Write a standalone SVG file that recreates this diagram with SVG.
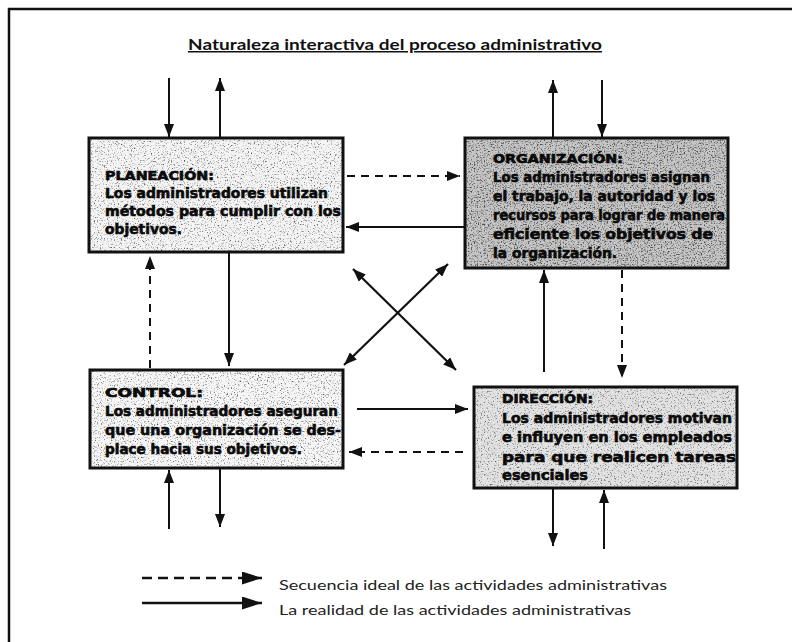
<svg xmlns="http://www.w3.org/2000/svg" width="792" height="642" viewBox="0 0 792 642">
  <style>
    .frame { stroke: #111; stroke-width: 2.5; fill: none; }
    .box { fill: none; stroke: #111; stroke-width: 3; }
    .head { font-family: "DejaVu Sans", "Liberation Sans", sans-serif; font-weight: bold; font-size: 13px; fill: #0a0a0a; stroke: #0a0a0a; stroke-width: 0.7; }
    .body { font-family: "DejaVu Sans", "Liberation Sans", sans-serif; font-weight: bold; font-size: 13.5px; fill: #0a0a0a; stroke: #0a0a0a; stroke-width: 0.6; }
    .title { font-family: "Lato", "Liberation Sans", sans-serif; font-weight: bold; font-size: 15px; fill: #111; text-decoration: underline; }
    .legend { font-family: "Lato", "Liberation Sans", sans-serif; font-size: 13px; fill: #222; }
    .solid { stroke: #111; stroke-width: 2; fill: none; marker-end: url(#ah); }
    .dashed { stroke: #111; stroke-width: 2; fill: none; stroke-dasharray: 8 6; marker-end: url(#ah); }
    .both { stroke: #111; stroke-width: 2.2; fill: none; marker-start: url(#ah); marker-end: url(#ah); }
  </style>
  <defs>
    <marker id="ah" viewBox="0 0 13 10" refX="13" refY="5" markerWidth="13" markerHeight="10" markerUnits="userSpaceOnUse" orient="auto-start-reverse">
      <path d="M0,0 L13,5 L0,10 z" fill="#111"/>
    </marker>
    <marker id="ahL" viewBox="0 0 20 13" refX="20" refY="6.5" markerWidth="20" markerHeight="13" markerUnits="userSpaceOnUse" orient="auto">
      <path d="M0,0 L20,6.5 L0,13 z" fill="#111"/>
    </marker>
    <!-- photocopy speckle for the box backgrounds -->
    <filter id="grainLight" x="0" y="0" width="1" height="1" color-interpolation-filters="sRGB">
      <feTurbulence type="fractalNoise" baseFrequency="0.7" numOctaves="4" seed="7" result="t"/>
      <feColorMatrix in="t" type="matrix" values="0 0 0 0 0.35  0 0 0 0 0.35  0 0 0 0 0.35  3.5 0 0 0 -1.95" result="dots"/>
      <feComposite in="dots" in2="SourceGraphic" operator="in"/>
    </filter>
    <filter id="grainDark" x="0" y="0" width="1" height="1" color-interpolation-filters="sRGB">
      <feTurbulence type="fractalNoise" baseFrequency="0.7" numOctaves="4" seed="11" result="t"/>
      <feColorMatrix in="t" type="matrix" values="0 0 0 0 0.3  0 0 0 0 0.3  0 0 0 0 0.3  3.5 0 0 0 -1.75" result="dots"/>
      <feComposite in="dots" in2="SourceGraphic" operator="in"/>
    </filter>
  </defs>

  <rect x="0" y="0" width="792" height="642" fill="#ffffff"/>

  <!-- page frame (top and left edges) -->
  <g id="frame">
    <path class="frame" d="M9,642 L9,9 L792,9"/>
  </g>

  <g id="title">
    <text class="title" x="188" y="50" textLength="414" lengthAdjust="spacingAndGlyphs">Naturaleza interactiva del proceso administrativo</text>
  </g>

  <!-- PLANEACIÓN -->
  <g id="node-planeacion">
    <rect x="89" y="138" width="254" height="114" fill="#f4f4f4"/>
    <rect x="89" y="138" width="254" height="114" fill="#000" filter="url(#grainLight)"/>
    <text class="head" x="105" y="180" textLength="109" lengthAdjust="spacingAndGlyphs">PLANEACIÓN:</text>
    <text class="body" x="105" y="198" textLength="223" lengthAdjust="spacingAndGlyphs">Los administradores utilizan</text>
    <text class="body" x="105" y="216" textLength="236" lengthAdjust="spacingAndGlyphs">métodos para cumplir con los</text>
    <text class="body" x="105" y="234" textLength="77" lengthAdjust="spacingAndGlyphs">objetivos.</text>
    <rect class="box" x="89" y="138" width="254" height="114"/>
  </g>

  <!-- ORGANIZACIÓN -->
  <g id="node-organizacion">
    <rect x="465" y="138" width="263" height="130" fill="#c6c6c6"/>
    <rect x="465" y="138" width="263" height="130" fill="#000" filter="url(#grainDark)"/>
    <text class="head" x="493" y="163" textLength="130" lengthAdjust="spacingAndGlyphs">ORGANIZACIÓN:</text>
    <text class="body" x="493" y="182" textLength="217" lengthAdjust="spacingAndGlyphs">Los administradores asignan</text>
    <text class="body" x="493" y="201" textLength="222" lengthAdjust="spacingAndGlyphs">el trabajo, la autoridad y los</text>
    <text class="body" x="493" y="220" textLength="232" lengthAdjust="spacingAndGlyphs">recursos para lograr de manera</text>
    <text class="body" x="493" y="239" textLength="220" lengthAdjust="spacingAndGlyphs">eficiente los objetivos de</text>
    <text class="body" x="493" y="258" textLength="124" lengthAdjust="spacingAndGlyphs">la organización.</text>
    <rect class="box" x="465" y="138" width="263" height="130"/>
  </g>

  <!-- CONTROL -->
  <g id="node-control">
    <rect x="90" y="370" width="253" height="98" fill="#f6f6f6"/>
    <rect x="90" y="370" width="253" height="98" fill="#000" filter="url(#grainLight)"/>
    <text class="head" x="105" y="397" textLength="98" lengthAdjust="spacingAndGlyphs">CONTROL:</text>
    <text class="body" x="105" y="416" textLength="233" lengthAdjust="spacingAndGlyphs">Los administradores aseguran</text>
    <text class="body" x="105" y="435" textLength="236" lengthAdjust="spacingAndGlyphs">que una organización se des-</text>
    <text class="body" x="105" y="454" textLength="197" lengthAdjust="spacingAndGlyphs">place hacia sus objetivos.</text>
    <rect class="box" x="90" y="370" width="253" height="98"/>
  </g>

  <!-- DIRECCIÓN -->
  <g id="node-direccion">
    <rect x="474" y="387" width="263" height="101" fill="#e2e2e2"/>
    <rect x="474" y="387" width="263" height="101" fill="#000" filter="url(#grainLight)"/>
    <text class="head" x="502" y="403" textLength="91" lengthAdjust="spacingAndGlyphs">DIRECCIÓN:</text>
    <text class="body" x="502" y="423" textLength="230" lengthAdjust="spacingAndGlyphs">Los administradores motivan</text>
    <text class="body" x="502" y="442" textLength="230" lengthAdjust="spacingAndGlyphs">e influyen en los empleados</text>
    <text class="body" x="502" y="462" textLength="234" lengthAdjust="spacingAndGlyphs">para que realicen tareas</text>
    <text class="body" x="502" y="480" textLength="86" lengthAdjust="spacingAndGlyphs">esenciales</text>
    <rect class="box" x="474" y="387" width="263" height="101"/>
  </g>

  <g id="connectors">
    <!-- outside inputs / outputs -->
    <line class="solid" x1="169" y1="78" x2="169" y2="137"/>
    <line class="solid" x1="220" y1="137" x2="220" y2="78"/>
    <line class="solid" x1="553" y1="137" x2="553" y2="80"/>
    <line class="solid" x1="602" y1="80" x2="602" y2="137"/>
    <line class="solid" x1="169" y1="529" x2="169" y2="470"/>
    <line class="solid" x1="220" y1="469" x2="220" y2="527"/>
    <line class="solid" x1="553" y1="489" x2="553" y2="546"/>
    <line class="solid" x1="604" y1="549" x2="604" y2="490"/>
    <!-- between planning and organizing -->
    <line class="dashed" x1="347" y1="176" x2="460" y2="176"/>
    <line class="solid" x1="464" y1="227" x2="346" y2="227"/>
    <!-- planning / control -->
    <line class="solid" x1="229" y1="253" x2="229" y2="366"/>
    <line class="dashed" x1="150" y1="368" x2="150" y2="256"/>
    <!-- organizing / directing -->
    <line class="dashed" x1="622" y1="270" x2="622" y2="378"/>
    <line class="solid" x1="544" y1="372" x2="544" y2="270"/>
    <!-- control / directing -->
    <line class="solid" x1="357" y1="409" x2="468" y2="409"/>
    <line class="dashed" x1="463" y1="452" x2="349" y2="452"/>
    <!-- diagonal cross -->
    <line class="both" x1="353" y1="269" x2="456" y2="370"/>
    <line class="both" x1="448" y1="264" x2="344" y2="365"/>
  </g>

  <g id="legend">
    <line x1="142" y1="578" x2="262" y2="578" stroke="#111" stroke-width="2.5" stroke-dasharray="10 6" marker-end="url(#ahL)"/>
    <line x1="142" y1="603" x2="262" y2="603" stroke="#111" stroke-width="2.5" marker-end="url(#ahL)"/>
    <text class="legend" x="279" y="590" textLength="388" lengthAdjust="spacingAndGlyphs">Secuencia ideal de las actividades administrativas</text>
    <text class="legend" x="279" y="615" textLength="352" lengthAdjust="spacingAndGlyphs">La realidad de las actividades administrativas</text>
  </g>
</svg>
